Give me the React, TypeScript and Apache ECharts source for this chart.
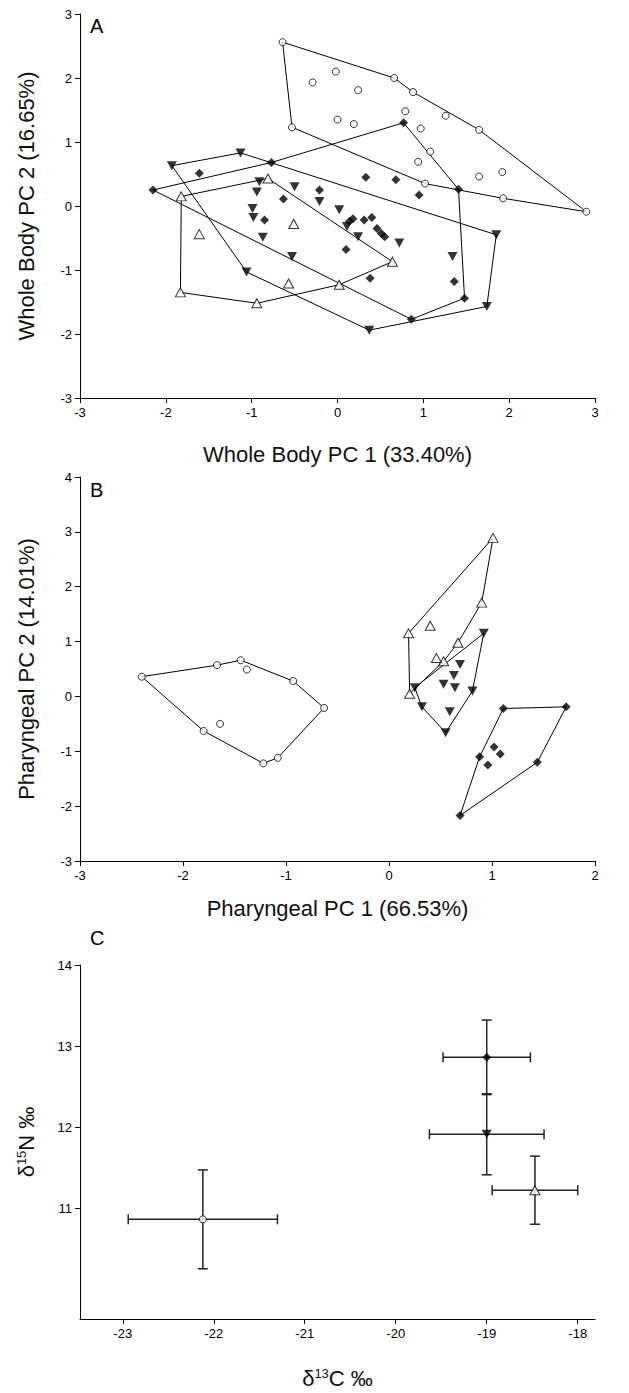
import React, { useEffect, useRef } from "react";
import * as echarts from "echarts";

// ---------- Panel A (Whole body PCA) ----------
const A_OPEN_CIRCLE = [
  [-0.64, 2.56], [-0.02, 2.10], [-0.29, 1.93], [0.24, 1.81], [0.66, 2.00], [0.88, 1.78],
  [0.00, 1.35], [0.19, 1.28], [-0.53, 1.23], [0.79, 1.48], [1.26, 1.41], [0.97, 1.21],
  [1.08, 0.85], [0.94, 0.69], [1.02, 0.35], [1.65, 1.19], [1.65, 0.46], [1.92, 0.53],
  [1.93, 0.12], [2.90, -0.09],
];
const A_OPEN_CIRCLE_HULL = [
  [-0.64, 2.56], [0.66, 2.00], [0.88, 1.78], [1.65, 1.19], [2.90, -0.09], [1.93, 0.12],
  [1.02, 0.35], [-0.53, 1.23],
];
const A_FILLED_CIRCLE = [
  [-2.15, 0.25], [-0.77, 0.68], [0.77, 1.30], [1.41, 0.26], [1.48, -1.44], [0.86, -1.77],
  [-1.61, 0.51], [-0.63, 0.11], [-0.85, -0.22], [-0.21, 0.25], [0.33, 0.45], [0.68, 0.41],
  [0.95, 0.17], [0.10, -0.68], [0.38, -1.13], [1.36, -1.18], [0.14, -0.24], [0.18, -0.20],
  [0.31, -0.22], [0.40, -0.18], [0.46, -0.35], [0.51, -0.43], [0.55, -0.48],
];
const A_FILLED_CIRCLE_HULL = [
  [-2.15, 0.25], [-0.77, 0.68], [0.77, 1.30], [1.41, 0.26], [1.48, -1.44], [0.86, -1.77],
];
const A_FILLED_TRI = [
  [-1.93, 0.63], [-1.13, 0.83], [1.85, -0.45], [1.74, -1.57], [0.37, -1.94], [-1.06, -1.03],
  [-0.91, 0.38], [-0.94, 0.22], [-0.50, 0.30], [-0.99, -0.04], [-0.98, -0.18], [-0.21, 0.07],
  [0.02, -0.06], [-0.87, -0.49], [-0.53, -0.79], [0.24, -0.48], [0.72, -0.58], [1.34, -0.79],
  [0.11, -0.32],
];
const A_FILLED_TRI_HULL = [
  [-1.93, 0.63], [-1.13, 0.83], [1.85, -0.45], [1.74, -1.57], [0.37, -1.94], [-1.06, -1.03],
];
const A_OPEN_TRI = [
  [-1.82, 0.15], [-0.81, 0.43], [0.64, -0.87], [0.02, -1.23], [-0.94, -1.52], [-1.83, -1.35],
  [-1.61, -0.44], [-0.51, -0.28], [-0.57, -1.21],
];
const A_OPEN_TRI_HULL = [
  [-1.82, 0.15], [-0.81, 0.43], [0.64, -0.87], [0.02, -1.23], [-0.94, -1.52], [-1.83, -1.35],
];

// ---------- Panel B (Pharyngeal PCA) ----------
const B_OPEN_CIRCLE = [
  [-2.40, 0.36], [-1.67, 0.57], [-1.44, 0.66], [-0.93, 0.28], [-0.63, -0.21], [-1.08, -1.12],
  [-1.22, -1.22], [-1.80, -0.63], [-1.38, 0.49], [-1.64, -0.50],
];
const B_OPEN_CIRCLE_HULL = [
  [-2.40, 0.36], [-1.67, 0.57], [-1.44, 0.66], [-0.93, 0.28], [-0.63, -0.21], [-1.08, -1.12],
  [-1.22, -1.22], [-1.80, -0.63],
];
const B_OPEN_TRI = [
  [0.19, 1.15], [1.01, 2.89], [0.90, 1.71], [0.67, 0.98], [0.53, 0.64], [0.20, 0.05],
  [0.40, 1.29], [0.46, 0.70],
];
const B_OPEN_TRI_HULL = [
  [0.19, 1.15], [1.01, 2.89], [0.90, 1.71], [0.67, 0.98], [0.53, 0.64], [0.20, 0.05],
];
const B_FILLED_TRI = [
  [0.25, 0.16], [0.92, 1.15], [0.81, 0.10], [0.55, -0.66], [0.32, -0.19],
  [0.69, 0.58], [0.63, 0.38], [0.53, 0.22], [0.64, 0.16], [0.59, -0.28],
];
const B_FILLED_TRI_HULL = [
  [0.25, 0.16], [0.92, 1.15], [0.81, 0.10], [0.55, -0.66], [0.32, -0.19],
];
const B_FILLED_CIRCLE = [
  [1.11, -0.22], [1.72, -0.19], [1.44, -1.20], [0.69, -2.17], [0.88, -1.10],
  [1.02, -0.92], [1.08, -1.05], [0.96, -1.25],
];
const B_FILLED_CIRCLE_HULL = [
  [1.11, -0.22], [1.72, -0.19], [1.44, -1.20], [0.69, -2.17], [0.88, -1.10],
];

// ---------- Panel C (stable isotopes, mean ± error) ----------
// [d13C, d15N, d13C error, d15N error]
const C_OPEN_CIRCLE = [[-22.12, 10.86, 0.82, 0.61]];
const C_FILLED_CIRCLE = [[-19.00, 12.86, 0.48, 0.46]];
const C_FILLED_TRI = [[-19.00, 11.91, 0.63, 0.50]];
const C_OPEN_TRI = [[-18.47, 11.22, 0.47, 0.42]];

const C_X_TICKS = [-23, -22, -21, -20, -19, -18];
const C_Y_TICKS = [11, 12, 13, 14];

const FONT = "Liberation Sans";

function closed(pts: number[][]) {
  return [...pts, pts[0]];
}

export default function App() {
  const ref = useRef<HTMLDivElement>(null);
  useEffect(() => {
    document.body.style.margin = "0";
    if (!ref.current) return;
    const chart = echarts.init(ref.current, undefined, { renderer: "svg" });

    const axisCommon = {
      type: "value" as const,
      axisLine: { show: true, onZero: false, lineStyle: { color: "#000", width: 1 } },
      axisTick: { show: true, length: 5, lineStyle: { color: "#000", width: 1 } },
      splitLine: { show: false },
      axisLabel: { color: "#000", fontSize: 13, fontFamily: FONT },
      nameLocation: "middle" as const,
      nameTextStyle: { color: "#111", fontSize: 22, fontFamily: FONT },
    };

    const hull = (data: number[][], gi: number) => ({
      type: "line",
      xAxisIndex: gi,
      yAxisIndex: gi,
      data: closed(data),
      symbol: "none",
      lineStyle: { color: "#000", width: 1 },
      silent: true,
      z: 1,
    });
    const openCircle = (data: number[][], gi: number) => ({
      type: "scatter",
      xAxisIndex: gi,
      yAxisIndex: gi,
      data,
      symbol: "circle",
      symbolSize: 7,
      itemStyle: { color: "#fff", borderColor: "#000", borderWidth: 1 },
      z: 3,
    });
    const filledCircle = (data: number[][], gi: number) => ({
      type: "scatter",
      xAxisIndex: gi,
      yAxisIndex: gi,
      data,
      symbol: "diamond",
      symbolSize: 9,
      itemStyle: { color: "#000" },
      z: 3,
    });
    const filledTri = (data: number[][], gi: number) => ({
      type: "scatter",
      xAxisIndex: gi,
      yAxisIndex: gi,
      data,
      symbol: "triangle",
      symbolRotate: 180,
      symbolSize: [10, 9],
      itemStyle: { color: "#000" },
      z: 3,
    });
    const openTri = (data: number[][], gi: number) => ({
      type: "scatter",
      xAxisIndex: gi,
      yAxisIndex: gi,
      data,
      symbol: "triangle",
      symbolSize: [10, 9],
      itemStyle: { color: "#fff", borderColor: "#000", borderWidth: 1 },
      z: 3,
    });
    const errBars = (data: number[][]) => ({
      type: "custom",
      xAxisIndex: 2,
      yAxisIndex: 2,
      data,
      z: 2,
      renderItem: (params: any, api: any) => {
        const x = api.value(0), y = api.value(1), ex = api.value(2), ey = api.value(3);
        const l = api.coord([x - ex, y]);
        const r = api.coord([x + ex, y]);
        const t = api.coord([x, y + ey]);
        const b = api.coord([x, y - ey]);
        const cap = 5;
        const st = { stroke: "#222", lineWidth: 1.5 };
        const ln = (x1: number, y1: number, x2: number, y2: number) => ({
          type: "line", shape: { x1, y1, x2, y2 }, style: st,
        });
        return {
          type: "group",
          children: [
            ln(l[0], l[1], r[0], r[1]),
            ln(t[0], t[1], b[0], b[1]),
            ln(l[0], l[1] - cap, l[0], l[1] + cap),
            ln(r[0], r[1] - cap, r[0], r[1] + cap),
            ln(t[0] - cap, t[1], t[0] + cap, t[1]),
            ln(b[0] - cap, b[1], b[0] + cap, b[1]),
          ],
        };
      },
    });
    const meanPts = (d: number[][]) => d.map((r) => [r[0], r[1]]);

    const option: any = {
      animation: false,
      backgroundColor: "#fff",
      grid: [
        { left: 80, top: 14, width: 515, height: 384 },
        { left: 80, top: 477, width: 515, height: 384 },
        { left: 80, top: 965, width: 515, height: 354 },
      ],
      xAxis: [
        { ...axisCommon, gridIndex: 0, min: -3, max: 3, interval: 1,
          name: "Whole Body PC 1 (33.40%)", nameGap: 45 },
        { ...axisCommon, gridIndex: 1, min: -3, max: 2, interval: 1,
          name: "Pharyngeal PC 1 (66.53%)", nameGap: 36 },
        { ...axisCommon, gridIndex: 2, min: -23.47, max: -17.81,
          axisTick: { ...axisCommon.axisTick, customValues: C_X_TICKS },
          axisLabel: { ...axisCommon.axisLabel, customValues: C_X_TICKS },
          name: "{a|δ}{s|13}{a|C ‰}", nameGap: 48,
          nameTextStyle: { ...axisCommon.nameTextStyle,
            rich: { a: { fontSize: 22, fontFamily: FONT, color: "#111" },
                    s: { fontSize: 13, fontFamily: FONT, color: "#111", verticalAlign: "top", padding: [0, 0, 8, 0] } } } },
      ],
      yAxis: [
        { ...axisCommon, gridIndex: 0, min: -3, max: 3, interval: 1,
          name: "Whole Body PC 2 (16.65%)", nameGap: 43 },
        { ...axisCommon, gridIndex: 1, min: -3, max: 4, interval: 1,
          name: "Pharyngeal PC 2 (14.01%)", nameGap: 43 },
        { ...axisCommon, gridIndex: 2, min: 9.63, max: 14,
          axisTick: { ...axisCommon.axisTick, customValues: C_Y_TICKS },
          axisLabel: { ...axisCommon.axisLabel, customValues: C_Y_TICKS },
          name: "{a|δ}{s|15}{a|N ‰}", nameGap: 43,
          nameTextStyle: { ...axisCommon.nameTextStyle,
            rich: { a: { fontSize: 22, fontFamily: FONT, color: "#111" },
                    s: { fontSize: 13, fontFamily: FONT, color: "#111", verticalAlign: "top", padding: [0, 0, 8, 0] } } } },
      ],
      graphic: [
        { type: "text", left: 90, top: 16, style: { text: "A", fontSize: 20, fontFamily: FONT, fill: "#000" } },
        { type: "text", left: 90, top: 480, style: { text: "B", fontSize: 20, fontFamily: FONT, fill: "#000" } },
        { type: "text", left: 90, top: 928, style: { text: "C", fontSize: 20, fontFamily: FONT, fill: "#000" } },
      ],
      series: [
        hull(A_OPEN_CIRCLE_HULL, 0),
        hull(A_FILLED_CIRCLE_HULL, 0),
        hull(A_FILLED_TRI_HULL, 0),
        hull(A_OPEN_TRI_HULL, 0),
        openCircle(A_OPEN_CIRCLE, 0),
        openTri(A_OPEN_TRI, 0),
        filledCircle(A_FILLED_CIRCLE, 0),
        filledTri(A_FILLED_TRI, 0),

        hull(B_OPEN_CIRCLE_HULL, 1),
        hull(B_OPEN_TRI_HULL, 1),
        hull(B_FILLED_TRI_HULL, 1),
        hull(B_FILLED_CIRCLE_HULL, 1),
        openCircle(B_OPEN_CIRCLE, 1),
        openTri(B_OPEN_TRI, 1),
        filledTri(B_FILLED_TRI, 1),
        filledCircle(B_FILLED_CIRCLE, 1),

        errBars(C_OPEN_CIRCLE),
        errBars(C_FILLED_CIRCLE),
        errBars(C_FILLED_TRI),
        errBars(C_OPEN_TRI),
        openCircle(meanPts(C_OPEN_CIRCLE), 2),
        filledCircle(meanPts(C_FILLED_CIRCLE), 2),
        filledTri(meanPts(C_FILLED_TRI), 2),
        openTri(meanPts(C_OPEN_TRI), 2),
      ],
    };
    chart.setOption(option);
    return () => chart.dispose();
  }, []);
  return <div ref={ref} style={{ width: 629, height: 1393 }} />;
}
